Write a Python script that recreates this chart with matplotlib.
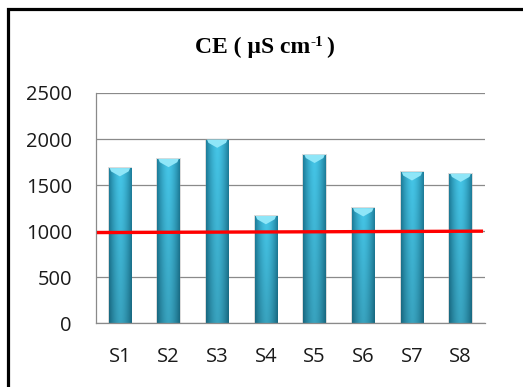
import matplotlib.pyplot as plt
import numpy as np
from matplotlib.colors import to_rgb
from matplotlib.patches import Rectangle
from matplotlib.transforms import offset_copy

# electrical conductivity per sampling site
sites = ['S1', 'S2', 'S3', 'S4', 'S5', 'S6', 'S7', 'S8']
ce_values = [1685, 1785, 1995, 1165, 1830, 1250, 1640, 1625]
y_ticks = [0, 500, 1000, 1500, 2000, 2500]

# hand-drawn limit line (ends in category units / µS cm-1)
limit_x = [0.03, 7.96]
limit_y = [985, 1000]

W, H = 523, 387
fig = plt.figure(figsize=(W / 100, H / 100), dpi=100)
ax = fig.add_axes([95.5 / W, 1 - 323.3 / H, (485 - 95.5) / W, (323.3 - 93) / H])

# black frame around the chart (only left and top edges are in view)
fig.add_artist(Rectangle((8 / W, -0.5), 2, 1.5 - 9 / H, transform=fig.transFigure,
                         fill=False, edgecolor='black', linewidth=2.3, clip_on=False))

x = np.arange(len(sites)) + 0.5
bar_w = 0.46
bars = ax.bar(x, ce_values, width=bar_w, facecolor='none', edgecolor='none', zorder=2)

# cylinder-like shading: dark edges, light middle, darker towards the base
edge_c = np.array(to_rgb('#1d7d9a'))
mid_c = np.array(to_rgb('#45c6e8'))
nx, ny = 60, 100
t = np.linspace(-1, 1, nx)
hprof = 1 - np.abs(t) ** 1.6
vprof = np.linspace(0.82, 1.0, ny)[:, None, None]
grad = edge_c + (mid_c - edge_c) * hprof[None, :, None]
grad = np.clip(grad * vprof, 0, 1)

cap_h = 90
cap_c = '#8fe6f8'
for b, v in zip(bars, ce_values):
    x0 = b.get_x()
    x1 = x0 + b.get_width()
    # soft shadow
    ax.add_patch(Rectangle((x0 - 0.02, 0), x1 - x0 + 0.04, v + 10,
                           facecolor='#9a9a9a', alpha=0.35, edgecolor='none', zorder=1.9))
    im = ax.imshow(grad, extent=(x0, x1, 0, v), origin='lower', aspect='auto',
                   interpolation='bilinear', zorder=2.1)
    im.set_clip_path(b)
    xc = (x0 + x1) / 2
    ax.fill([x0 + 0.02, x1 - 0.02, x1 - 0.05, xc, x0 + 0.05],
            [v, v, v - cap_h * 0.4, v - cap_h, v - cap_h * 0.4],
            color=cap_c, zorder=2.2, linewidth=0)

ax.plot(limit_x, limit_y, color='#ff0000', linewidth=2.4, solid_capstyle='butt', zorder=5)

ax.set_xlim(0, len(sites))
ax.set_ylim(0, 2500)
ax.set_yticks(y_ticks)
ax.set_xticks(x)
ax.set_xticklabels(sites)
ax.yaxis.grid(True, color='#8a8a8a', linewidth=0.9)
ax.set_axisbelow(True)
for side in ['top', 'right']:
    ax.spines[side].set_visible(False)
for side in ['left', 'bottom']:
    ax.spines[side].set_color('#8a8a8a')
    ax.spines[side].set_linewidth(0.9)
ax.tick_params(length=0, labelsize=14.5, labelcolor='#1a1a1a')
ax.tick_params(axis='y', pad=17)
ax.tick_params(axis='x', pad=17)
for lbl in ax.get_xticklabels() + ax.get_yticklabels():
    lbl.set_family('Open Sans')

# title built from pieces so the exponent stays small and raised
title_kw = dict(family='Liberation Serif', weight='bold', va='baseline')
t1 = fig.text(195 / W, 1 - 53 / H, 'CE ( µS cm', fontsize=17, ha='left', **title_kw)
fig.canvas.draw()
r = fig.canvas.get_renderer()
bb = t1.get_window_extent(r)
t2 = fig.text(bb.x1 / W, (1 - 53 / H) + 7 / H, '-1', fontsize=11, ha='left', **title_kw)
bb2 = t2.get_window_extent(r)
fig.text(bb2.x1 / W + 3 / W, 1 - 53 / H, ')', fontsize=17, ha='left', **title_kw)

fig.savefig('out.png', dpi=100)
